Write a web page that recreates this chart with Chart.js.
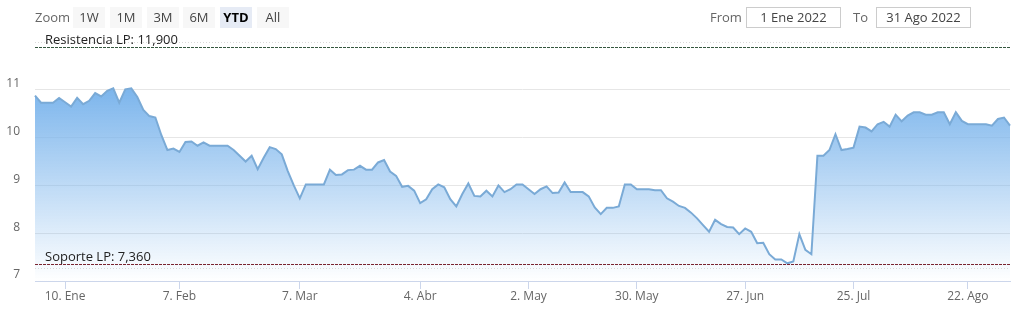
<!DOCTYPE html>
<html>
<head>
<meta charset="utf-8">
<title>YTD 2022</title>
<script src="https://cdn.jsdelivr.net/npm/chart.js@4.4.1/dist/chart.umd.min.js"></script>
<style>
  body { margin: 0; background: #fff; font-family: "Open Sans", sans-serif; }
  #wrap { position: relative; width: 1015px; height: 313px; overflow: hidden; }
  #wrap canvas { position: absolute; left: 0; top: 0; }
  .txt { position: absolute; top: 7px; height: 21px; line-height: 21px; font-size: 13px; color: #666; }
  .btn { position: absolute; top: 7px; width: 32px; height: 21px; line-height: 21px; text-align: center;
         font-size: 13px; color: #444; background: #f7f7f7; }
  .btn.on { background: #e6ebf5; font-weight: bold; color: #000; }
  .inp { position: absolute; top: 7px; height: 19px; line-height: 19px; border: 1px solid #ccc;
         text-align: center; font-size: 13px; color: #444; }
</style>
</head>
<body>
<div id="wrap">
  <canvas id="chart" width="1015" height="313"></canvas>

  <!-- range selector -->
  <div class="txt" style="left:35px">Zoom</div>
  <div class="btn" style="left:73px">1W</div>
  <div class="btn" style="left:110px">1M</div>
  <div class="btn" style="left:147px">3M</div>
  <div class="btn" style="left:183px">6M</div>
  <div class="btn on" style="left:220px">YTD</div>
  <div class="btn" style="left:257px">All</div>

  <div class="txt" style="left:710px">From</div>
  <div class="inp" style="left:746px;width:93px">1 Ene 2022</div>
  <div class="txt" style="left:853px">To</div>
  <div class="inp" style="left:876px;width:93px">31 Ago 2022</div>
</div>

<script>
// trading days per month (2022)
const eneDays = [3,4,5,6,7,11,12,13,14,17,18,19,20,21,24,25,26,27,28,31];
const febDays = [1,2,3,4,7,8,9,10,11,14,15,16,17,18,21,22,23,24,25,28];
const marDays = [1,2,3,4,7,8,9,10,11,14,15,16,17,18,21,22,23,24,25,28,29,30,31];
const abrDays = [1,4,5,6,7,8,11,12,13,18,19,20,21,22,25,26,27,28,29];
const mayDays = [2,3,4,5,6,9,10,11,12,13,16,17,20,23,24,25,26,27,31];
const junDays = [1,2,3,6,7,8,9,10,13,14,15,16,17,21,22,23,24,28,29,30];
const julDays = [1,5,6,7,8,11,12,13,14,15,18,19,20,21,22,25,26,27,28,29];
const agoDays = [1,2,3,4,5,8,9,10,11,12,16,17,18,19,22,23,24,25,26,29,30,31];
const monthNames = ['Ene','Feb','Mar','Abr','May','Jun','Jul','Ago'];

// closing price, one per trading day
const closes = [
  10.88, 10.73, 10.73, 10.73, 10.83, 10.74, 10.65, 10.83, 10.70, 10.77,
  10.93, 10.86, 10.98, 11.03, 10.73, 11.01, 11.03, 10.85, 10.58, 10.45,
  10.42, 10.05, 9.74, 9.77, 9.70, 9.91, 9.92, 9.83, 9.90, 9.83,
  9.83, 9.83, 9.83, 9.74, 9.62, 9.50, 9.62, 9.34, 9.58, 9.80,
  9.76, 9.65, 9.30, 9.00, 8.73, 9.02, 9.02, 9.02, 9.02, 9.33,
  9.22, 9.23, 9.32, 9.33, 9.41, 9.33, 9.33, 9.48, 9.53, 9.29,
  9.20, 8.97, 8.99, 8.89, 8.63, 8.71, 8.92, 9.02, 8.96, 8.71,
  8.56, 8.82, 9.04, 8.78, 8.77, 8.89, 8.77, 9.00, 8.86, 8.92,
  9.02, 9.02, 8.92, 8.82, 8.92, 8.98, 8.84, 8.85, 9.06, 8.86,
  8.86, 8.86, 8.77, 8.54, 8.40, 8.53, 8.53, 8.56, 9.02, 9.02,
  8.92, 8.92, 8.92, 8.90, 8.90, 8.73, 8.66, 8.57, 8.53, 8.43,
  8.31, 8.17, 8.03, 8.28, 8.19, 8.13, 8.12, 7.98, 8.10, 8.03,
  7.79, 7.80, 7.56, 7.45, 7.45, 7.37, 7.41, 7.98, 7.65, 7.56,
  9.62, 9.62, 9.74, 10.07, 9.74, 9.76, 9.79, 10.23, 10.21, 10.13,
  10.28, 10.33, 10.23, 10.48, 10.34, 10.46, 10.53, 10.53, 10.48, 10.48,
  10.53, 10.53, 10.28, 10.53, 10.35, 10.28, 10.28, 10.28, 10.28, 10.25,
  10.39, 10.42, 10.25
];

// x-axis ticks: trading day where the tick sits, and its label
const tickDates = ['11 Ene','7 Feb','7 Mar','4 Abr','2 May','31 May','28 Jun','25 Jul','22 Ago'];
const tickLabels = ['10. Ene','7. Feb','7. Mar','4. Abr','2. May','30. May','27. Jun','25. Jul','22. Ago'];
const yTicks = [7, 8, 9, 10, 11];

// long-term resistance / support levels
const levelNames = ['Resistencia LP', 'Soporte LP'];
const levelValues = [11.9, 7.36];

const dates = [eneDays, febDays, marDays, abrDays, mayDays, junDays, julDays, agoDays]
  .flatMap((days, m) => days.map(d => d + ' ' + monthNames[m]));
const tickIdx = tickDates.map(d => dates.indexOf(d));

const FONT = '"Open Sans", sans-serif';

/**
 * Dashed horizontal level lines with a label above them
 */
const levelLines = {
  id: 'levelLines',
  afterDatasetsDraw(chart) {
    const { ctx, chartArea: a, scales: { y } } = chart;
    const colors = ['#35573f', '#7a2430'];
    const faint = [-5, 4]; // light dotted companion line
    levelValues.forEach((v, i) => {
      const py = Math.round(y.getPixelForValue(v)) + 0.5;
      ctx.save();
      ctx.lineWidth = 1;
      ctx.strokeStyle = '#d9d9d9';
      ctx.setLineDash([1, 2]);
      ctx.beginPath();
      ctx.moveTo(a.left, py + faint[i]);
      ctx.lineTo(a.right, py + faint[i]);
      ctx.stroke();
      ctx.strokeStyle = colors[i];
      ctx.setLineDash([3, 1]);
      ctx.beginPath();
      ctx.moveTo(a.left, py);
      ctx.lineTo(a.right, py);
      ctx.stroke();
      ctx.fillStyle = '#222';
      ctx.font = '13px ' + FONT;
      ctx.textBaseline = 'alphabetic';
      ctx.fillText(levelNames[i] + ': ' + v.toFixed(3).replace('.', ','), a.left + 10, py - 4);
      ctx.restore();
    });
  }
};

new Chart(document.getElementById('chart'), {
  type: 'line',
  data: {
    labels: dates,
    datasets: [{
      data: closes,
      borderColor: 'rgb(122,170,214)',
      borderWidth: 2,
      pointRadius: 0,
      tension: 0,
      fill: 'start',
      backgroundColor: (c) => {
        const area = c.chart.chartArea;
        const y = c.chart.scales.y;
        if (!area || !y) return 'rgba(124,181,236,0.5)';
        const top = y.getPixelForValue(Math.max(...closes));
        const g = c.chart.ctx.createLinearGradient(0, top, 0, area.bottom);
        g.addColorStop(0, 'rgba(124,181,236,1)');
        g.addColorStop(1, 'rgba(124,181,236,0)');
        return g;
      }
    }]
  },
  options: {
    responsive: false,
    animation: false,
    layout: { padding: { top: 42, right: 5, left: 0, bottom: 0 } },
    plugins: {
      legend: { display: false },
      tooltip: { enabled: false }
    },
    scales: {
      x: {
        grid: { drawOnChartArea: false, color: '#ccd6eb', tickLength: 8 },
        border: { color: '#ccd6eb' },
        ticks: {
          autoSkip: false,
          maxRotation: 0,
          padding: 0,
          color: '#666',
          font: { family: FONT, size: 12 },
          callback: (v) => tickLabels[tickIdx.indexOf(v)]
        },
        afterBuildTicks: (axis) => { axis.ticks = tickIdx.map(i => ({ value: i })); },
        afterFit: (axis) => { axis.height = 32; }
      },
      y: {
        min: 7,
        max: 12,
        grid: { color: '#e6e6e6', drawTicks: false },
        border: { display: false },
        ticks: {
          padding: 15,
          labelOffset: -6,
          color: '#666',
          font: { family: FONT, size: 12 }
        },
        afterBuildTicks: (axis) => { axis.ticks = yTicks.map(v => ({ value: v })); },
        afterFit: (axis) => { axis.width = 35; }
      }
    }
  },
  plugins: [levelLines]
});
</script>
</body>
</html>
